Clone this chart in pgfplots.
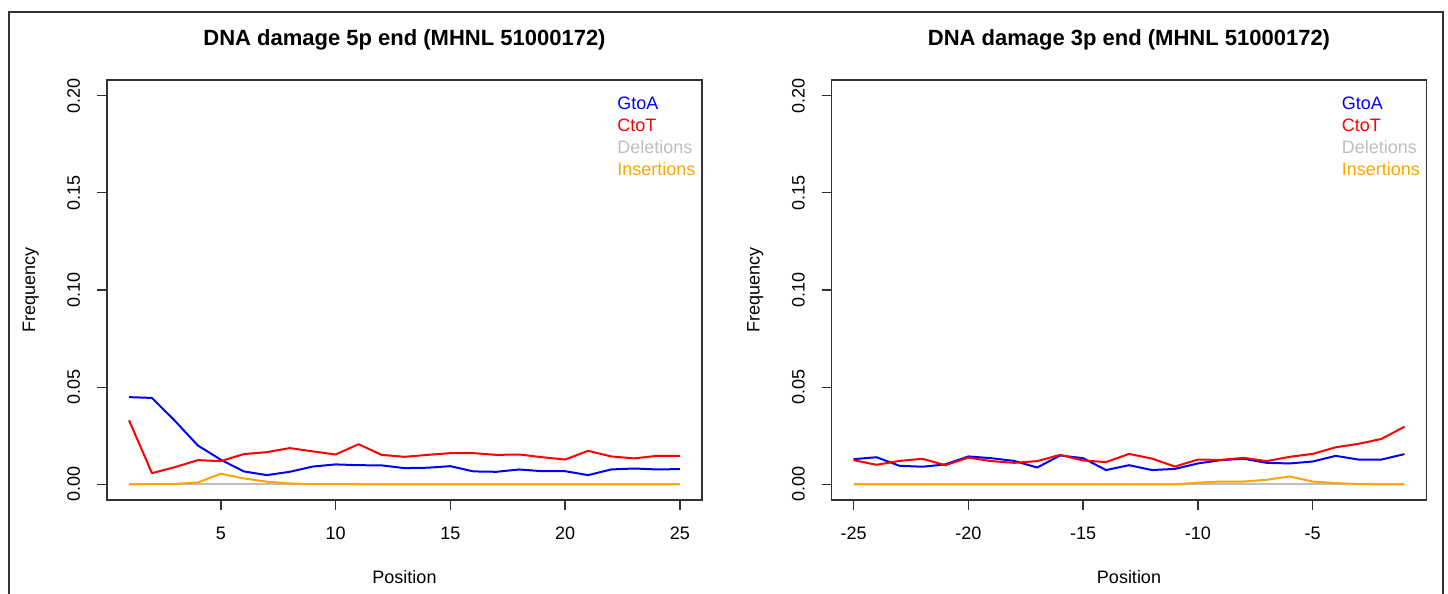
\documentclass[border=0pt]{standalone}
\usepackage{fontspec}
\setmainfont{Liberation Sans}
\usepackage{pgfplots}
\usepackage{pgfplotstable}
\pgfplotsset{compat=1.18}

\definecolor{gtoa}{RGB}{0,0,255}
\definecolor{ctot}{RGB}{255,0,0}
\definecolor{dels}{RGB}{190,190,190}
\definecolor{ins}{RGB}{255,165,0}

% 5p end: position 1..25
\pgfplotstableread{
pos gtoa ctot del ins
1  0.0449 0.0330 0 0
2  0.0445 0.0058 0 0.0003
3  0.0327 0.0089 0 0.0003
4  0.0200 0.0125 0 0.0010
5  0.0127 0.0120 0 0.0055
6  0.0067 0.0156 0 0.0031
7  0.0048 0.0166 0 0.0014
8  0.0065 0.0187 0 0.0005
9  0.0092 0.0170 0 0.0002
10 0.0103 0.0154 0 0.0002
11 0.0099 0.0207 0 0.0001
12 0.0098 0.0152 0 0
13 0.0084 0.0142 0 0
14 0.0086 0.0152 0 0
15 0.0094 0.0161 0 0
16 0.0067 0.0161 0 0
17 0.0065 0.0152 0 0
18 0.0077 0.0154 0 0
19 0.0068 0.0140 0 0
20 0.0068 0.0128 0 0
21 0.0048 0.0173 0 0
22 0.0077 0.0144 0 0
23 0.0082 0.0134 0 0
24 0.0077 0.0147 0 0
25 0.0079 0.0147 0 0
}\fivep

% 3p end: position -25..-1
\pgfplotstableread{
pos gtoa ctot del ins
-25 0.0130 0.0125 0 0
-24 0.0140 0.0101 0 0
-23 0.0096 0.0121 0 0
-22 0.0091 0.0132 0 0
-21 0.0103 0.0099 0 0
-20 0.0144 0.0138 0 0
-19 0.0135 0.0120 0 0
-18 0.0121 0.0111 0 0
-17 0.0087 0.0120 0 0
-16 0.0149 0.0152 0 0
-15 0.0135 0.0123 0 0
-14 0.0074 0.0115 0 0
-13 0.0099 0.0157 0 0
-12 0.0074 0.0133 0 0
-11 0.0080 0.0092 0 0
-10 0.0108 0.0128 0 0.0009
-9  0.0125 0.0126 0 0.0015
-8  0.0132 0.0137 0 0.0015
-7  0.0111 0.0120 0 0.0024
-6  0.0108 0.0142 0 0.0041
-5  0.0118 0.0157 0 0.0015
-4  0.0147 0.0191 0 0.0007
-3  0.0128 0.0209 0 0.0002
-2  0.0128 0.0234 0 0
-1  0.0156 0.0297 0 0
}\threep

\pgfplotsset{
  dmg/.style={
    scale only axis, width=297.5pt, height=210pt,
    ymin=-0.008, ymax=0.208,
    ytick={0,0.05,0.1,0.15,0.2},
    axis line style={draw=black!80, line width=0.7pt},
    tick style={draw=black!80, line width=0.7pt},
    tick align=outside, major tick length=5pt,
    xtick pos=left, ytick pos=left,
    font=\fontsize{9}{11}\selectfont,
    /pgf/number format/assume math mode=true,
    yticklabel style={/pgf/number format/.cd, fixed, fixed zerofill, precision=2, /tikz/.cd, rotate=90, anchor=base},
    xticklabel style={anchor=base},
    xticklabel shift=15pt, yticklabel shift=8.5pt,
    title style={font=\bfseries\fontsize{11}{13}\selectfont, at={(axis description cs:0.5,1.0524)}, anchor=base},
    xlabel style={at={(axis description cs:0.5,-0.2)}, anchor=base},
    ylabel style={at={(axis description cs:-0.121,0.5)}, anchor=base},
    legend image code/.code={},
    legend cell align=left,
    legend style={at={(axis description cs:0.857,0.9619)}, anchor=north west,
      draw=none, fill=none, inner sep=0pt, row sep=0pt, column sep=0pt,
      nodes={inner sep=0pt, text height=6.5pt, text depth=4.5pt}},
    every axis plot/.append style={line width=1pt, line join=round},
    xlabel={Position}, ylabel={Frequency},
  }
}

\begin{document}
\begin{tikzpicture}
\path[use as bounding box] (0,0) rectangle (724pt,297pt);
\draw[black!80, line width=0.7pt] (4.5pt,-2pt) -- (4.5pt,291pt) -- (721.5pt,291pt) -- (721.5pt,-2pt);

\begin{axis}[dmg, at={(53.5pt,47pt)}, anchor=south west,
  xmin=0.04, xmax=25.96, xtick={5,10,15,20,25},
  title={DNA damage 5p end (MHNL 51000172)}]
\addplot[gtoa] table[x=pos, y=gtoa] {\fivep};
\addplot[ctot] table[x=pos, y=ctot] {\fivep};
\addplot[dels] table[x=pos, y=del] {\fivep};
\addplot[ins] table[x=pos, y=ins] {\fivep};
\addlegendentry{\textcolor{gtoa}{GtoA}}
\addlegendentry{\textcolor{ctot}{CtoT}}
\addlegendentry{\textcolor{dels}{Deletions}}
\addlegendentry{\textcolor{ins}{Insertions}}
\end{axis}

\begin{axis}[dmg, at={(415.75pt,47pt)}, anchor=south west,
  xmin=-25.96, xmax=-0.04, xtick={-25,-20,-15,-10,-5},
  title={DNA damage 3p end (MHNL 51000172)}]
\addplot[gtoa] table[x=pos, y=gtoa] {\threep};
\addplot[ctot] table[x=pos, y=ctot] {\threep};
\addplot[dels] table[x=pos, y=del] {\threep};
\addplot[ins] table[x=pos, y=ins] {\threep};
\addlegendentry{\textcolor{gtoa}{GtoA}}
\addlegendentry{\textcolor{ctot}{CtoT}}
\addlegendentry{\textcolor{dels}{Deletions}}
\addlegendentry{\textcolor{ins}{Insertions}}
\end{axis}
\end{tikzpicture}
\end{document}
